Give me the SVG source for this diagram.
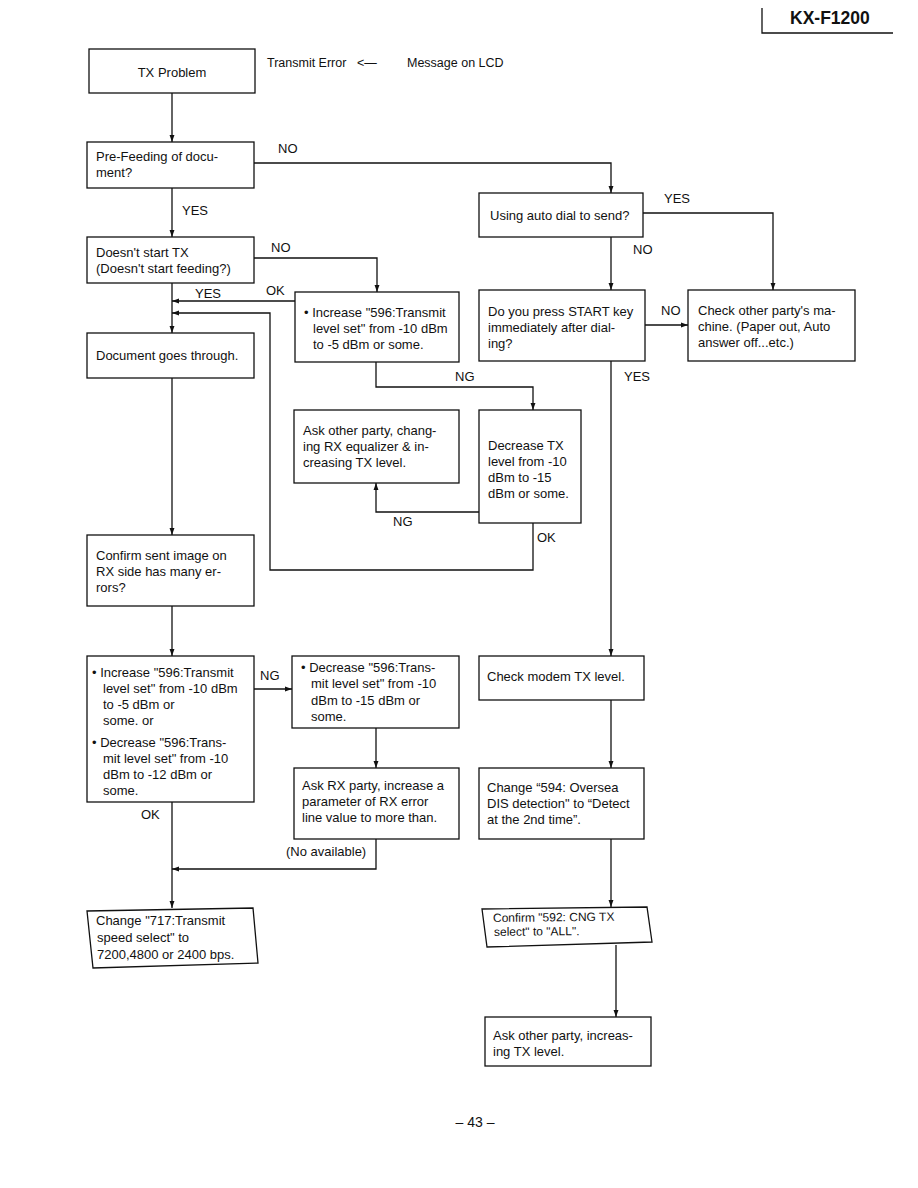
<svg xmlns="http://www.w3.org/2000/svg" width="918" height="1188" viewBox="0 0 918 1188">
<style>
.b{fill:#fff;stroke:#111;stroke-width:1.3}
.t{font-family:"Liberation Sans",Arial,sans-serif;font-size:13px;fill:#111}
.l{font-family:"Liberation Sans",Arial,sans-serif;font-size:12.5px;fill:#111}
.s{font-family:"Liberation Sans",Arial,sans-serif;font-size:12px;fill:#111}
.c{fill:none;stroke:#111;stroke-width:1.3}
</style>
<defs>
<marker id="a" viewBox="0 0 10 10" refX="10" refY="5" markerWidth="7" markerHeight="7" orient="auto" markerUnits="userSpaceOnUse"><path d="M0,1.5 L10,5 L0,8.5 Z" fill="#111"/></marker>
</defs>
<rect width="918" height="1188" fill="#fff"/>
<g id="header">
<path class="c" d="M762,8 V33 H893"/>
<text x="790" y="24" style="font-family:'Liberation Sans',Arial,sans-serif;font-size:17.5px;font-weight:bold;fill:#111">KX-F1200</text>
</g>
<g id="legend">
<text class="l" x="267" y="67">Transmit Error</text>
<text class="l" x="357" y="67">&lt;—</text>
<text class="l" x="407" y="67">Message on LCD</text>
</g>
<g id="connectors">
<path class="c" d="M172,93 V142" marker-end="url(#a)"/>
<path class="c" d="M254,163 H611 V193" marker-end="url(#a)"/>
<path class="c" d="M172,188 V237" marker-end="url(#a)"/>
<path class="c" d="M254,258 H377 V292" marker-end="url(#a)"/>
<path class="c" d="M295,301 H172" marker-end="url(#a)"/>
<path class="c" d="M172,283 V333" marker-end="url(#a)"/>
<path class="c" d="M533,523 V570 H270 V313 H172" marker-end="url(#a)"/>
<path class="c" d="M172,378 V535" marker-end="url(#a)"/>
<path class="c" d="M172,606 V656" marker-end="url(#a)"/>
<path class="c" d="M376,362 V387 H533 V410" marker-end="url(#a)"/>
<path class="c" d="M479,512 H376 V483" marker-end="url(#a)"/>
<path class="c" d="M643,213 H773 V290" marker-end="url(#a)"/>
<path class="c" d="M611,237 V290" marker-end="url(#a)"/>
<path class="c" d="M645,325 H688" marker-end="url(#a)"/>
<path class="c" d="M611,361 V656" marker-end="url(#a)"/>
<path class="c" d="M611,700 V768" marker-end="url(#a)"/>
<path class="c" d="M611,839 V907" marker-end="url(#a)"/>
<path class="c" d="M616,945 V1017" marker-end="url(#a)"/>
<path class="c" d="M254,689 H292" marker-end="url(#a)"/>
<path class="c" d="M376,728 V768" marker-end="url(#a)"/>
<path class="c" d="M376,839 V869 H172" marker-end="url(#a)"/>
<path class="c" d="M172,802 V908" marker-end="url(#a)"/>
</g>
<g id="labels">
<text class="t" x="278" y="153">NO</text>
<text class="t" x="182" y="215">YES</text>
<text class="t" x="271" y="252">NO</text>
<text class="t" x="266" y="295">OK</text>
<text class="t" x="195" y="298">YES</text>
<text class="t" x="455" y="381">NG</text>
<text class="t" x="393" y="526">NG</text>
<text class="t" x="537" y="542">OK</text>
<text class="t" x="664" y="203">YES</text>
<text class="t" x="633" y="254">NO</text>
<text class="t" x="661" y="315">NO</text>
<text class="t" x="624" y="381">YES</text>
<text class="t" x="260" y="680">NG</text>
<text class="t" x="141" y="819">OK</text>
<text class="t" x="286" y="856">(No available)</text>
</g>
<g id="n_tx_problem">
<rect class="b" x="89" y="49" width="166" height="44"/>
<text class="t" x="172" y="77" text-anchor="middle">TX Problem</text>
</g>
<g id="n_prefeeding">
<rect class="b" x="87" y="142" width="167" height="46"/>
<text class="t" x="96" y="161">Pre-Feeding of docu-</text>
<text class="t" x="96" y="177">ment?</text>
</g>
<g id="n_doesnt_start">
<rect class="b" x="87" y="237" width="167" height="46"/>
<text class="t" x="96" y="257">Doesn't start TX</text>
<text class="t" x="96" y="273">(Doesn't start feeding?)</text>
</g>
<g id="n_increase1">
<rect class="b" x="295" y="292" width="164" height="70"/>
<text class="t" x="304" y="317">• Increase "596:Transmit</text>
<text class="t" x="313" y="333">level set" from -10 dBm</text>
<text class="t" x="313" y="349">to -5 dBm or some.</text>
</g>
<g id="n_doc_through">
<rect class="b" x="87" y="333" width="167" height="45"/>
<text class="t" x="96" y="360">Document goes through.</text>
</g>
<g id="n_ask_other1">
<rect class="b" x="294" y="410" width="165" height="73"/>
<text class="t" x="303" y="435">Ask other party, chang-</text>
<text class="t" x="303" y="451">ing RX equalizer &amp; in-</text>
<text class="t" x="303" y="467">creasing TX level.</text>
</g>
<g id="n_decrease_tx">
<rect class="b" x="479" y="410" width="102" height="113"/>
<text class="t" x="488" y="450">Decrease TX</text>
<text class="t" x="488" y="466">level from -10</text>
<text class="t" x="488" y="482">dBm to -15</text>
<text class="t" x="488" y="498">dBm or some.</text>
</g>
<g id="n_confirm_image">
<rect class="b" x="87" y="535" width="167" height="71"/>
<text class="t" x="96" y="560">Confirm sent image on</text>
<text class="t" x="96" y="576">RX side has many er-</text>
<text class="t" x="96" y="592">rors?</text>
</g>
<g id="n_auto_dial">
<rect class="b" x="479" y="193" width="164" height="44"/>
<text class="t" x="490" y="220">Using auto dial to send?</text>
</g>
<g id="n_press_start">
<rect class="b" x="479" y="290" width="166" height="71"/>
<text class="t" x="488" y="316">Do you press START key</text>
<text class="t" x="488" y="332">immediately after dial-</text>
<text class="t" x="488" y="348">ing?</text>
</g>
<g id="n_check_other">
<rect class="b" x="688" y="290" width="167" height="71"/>
<text class="t" x="698" y="315">Check other party's ma-</text>
<text class="t" x="698" y="331">chine. (Paper out, Auto</text>
<text class="t" x="698" y="347">answer off...etc.)</text>
</g>
<g id="n_inc_dec">
<rect class="b" x="87" y="656" width="167" height="146"/>
<text class="t" x="92" y="677">• Increase "596:Transmit</text>
<text class="t" x="103" y="693">level set" from -10 dBm</text>
<text class="t" x="103" y="709">to -5 dBm or</text>
<text class="t" x="103" y="725">some. or</text>
<text class="t" x="92" y="747">• Decrease "596:Trans-</text>
<text class="t" x="103" y="763">mit level set" from -10</text>
<text class="t" x="103" y="779">dBm to -12 dBm or</text>
<text class="t" x="103" y="795">some.</text>
</g>
<g id="n_decrease2">
<rect class="b" x="292" y="656" width="167" height="72"/>
<text class="t" x="301" y="672">• Decrease "596:Trans-</text>
<text class="t" x="311" y="688">mit level set" from -10</text>
<text class="t" x="311" y="705">dBm to -15 dBm or</text>
<text class="t" x="311" y="721">some.</text>
</g>
<g id="n_ask_rx">
<rect class="b" x="294" y="768" width="165" height="71"/>
<text class="t" x="302" y="790">Ask RX party, increase a</text>
<text class="t" x="302" y="806">parameter of RX error</text>
<text class="t" x="302" y="822">line value to more than.</text>
</g>
<g id="n_check_modem">
<rect class="b" x="479" y="656" width="165" height="44"/>
<text class="t" x="487" y="681">Check modem TX level.</text>
</g>
<g id="n_change594">
<rect class="b" x="479" y="768" width="165" height="71"/>
<text class="t" x="487" y="792">Change “594: Oversea</text>
<text class="t" x="487" y="808">DIS detection" to “Detect</text>
<text class="t" x="487" y="824">at the 2nd time”.</text>
</g>
<g id="n_change717">
<polygon class="b" points="87,911 253,908 258,963 93,968"/>
<text class="t" x="96" y="925">Change "717:Transmit</text>
<text class="t" x="97" y="942">speed select" to</text>
<text class="t" x="97" y="959">7200,4800 or 2400 bps.</text>
</g>
<g id="n_confirm592">
<polygon class="b" points="482,909 647,907 652,942 487,947"/>
<text class="s" x="493" y="922" transform="rotate(-0.6 493 922)">Confirm "592: CNG TX</text>
<text class="s" x="494" y="936" transform="rotate(-0.6 494 936)">select" to "ALL".</text>
</g>
<g id="n_ask_other2">
<rect class="b" x="485" y="1017" width="166" height="49"/>
<text class="t" x="493" y="1040">Ask other party, increas-</text>
<text class="t" x="493" y="1056">ing TX level.</text>
</g>
<g id="page">
<text class="t" x="475" y="1127" text-anchor="middle" style="font-size:14px">– 43 –</text>
</g>
</svg>
